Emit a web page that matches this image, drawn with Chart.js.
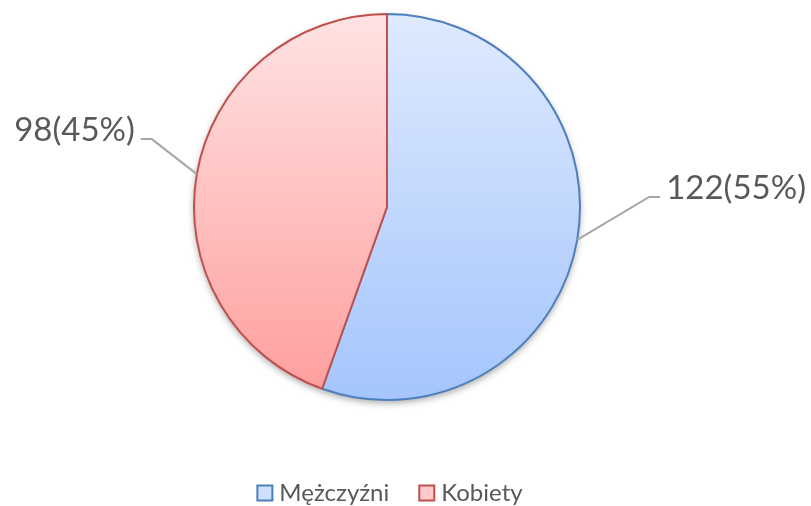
<!DOCTYPE html>
<html>
<head>
<meta charset="utf-8">
<script src="https://cdn.jsdelivr.net/npm/chart.js@4/dist/chart.umd.min.js"></script>
<style>
  html, body { margin: 0; padding: 0; background: #fff; }
  #wrap { width: 811px; height: 506px; }
</style>
</head>
<body>
<div id="wrap"><canvas id="pie" width="811" height="506"></canvas></div>
<script>
// data
const categories = ['Mężczyźni', 'Kobiety'];
const counts = [122, 98];
const pctLabels = ['55%', '45%'];

// styling
const gradTop = ['#dfeafe', '#ffe3e3'];
const gradBottom = ['#a4c5fc', '#ff9d9d'];
const borders = ['#4d7fbe', '#c0504d'];
const boxFill = ['#cfe0fd', '#ffcaca'];
// leader elbow offsets from the arc edge, per slice
const elbows = [[72, -43], [-45, -35]];

const textColor = '#595959';

function sliceGradient(ctx) {
  const chart = ctx.chart;
  const area = chart.chartArea;
  if (!area) return gradTop[ctx.dataIndex];
  const g = chart.ctx.createLinearGradient(0, area.top, 0, area.bottom);
  g.addColorStop(0, gradTop[ctx.dataIndex]);
  g.addColorStop(1, gradBottom[ctx.dataIndex]);
  return g;
}

const shadowPlugin = {
  id: 'shadow',
  beforeDatasetsDraw(chart) {
    const arc = chart.getDatasetMeta(0).data[0];
    if (!arc) return;
    const c = chart.ctx;
    c.save();
    c.shadowColor = 'rgba(0,0,0,0.35)';
    c.shadowBlur = 7;
    c.shadowOffsetY = 3;
    c.fillStyle = '#fff';
    c.beginPath();
    c.arc(arc.x, arc.y, arc.outerRadius, 0, Math.PI * 2);
    c.fill();
    c.restore();
  }
};

const labelPlugin = {
  id: 'sliceLabels',
  afterDatasetsDraw(chart) {
    const c = chart.ctx;
    const meta = chart.getDatasetMeta(0);
    meta.data.forEach((arc, i) => {
      const mid = (arc.startAngle + arc.endAngle) / 2;
      const ex = arc.x + Math.cos(mid) * arc.outerRadius;
      const ey = arc.y + Math.sin(mid) * arc.outerRadius;
      const bx = ex + elbows[i][0];
      const by = ey + elbows[i][1];
      const dir = Math.cos(mid) >= 0 ? 1 : -1;
      const sx = bx + dir * 11;
      c.save();
      c.strokeStyle = '#a6a6a6';
      c.lineWidth = 2;
      c.beginPath();
      c.moveTo(ex, ey);
      c.lineTo(bx, by);
      c.lineTo(sx, by);
      c.stroke();
      c.fillStyle = textColor;
      c.font = '33px Lato';
      c.textBaseline = 'alphabetic';
      c.textAlign = dir > 0 ? 'left' : 'right';
      c.fillText(counts[i] + '(' + pctLabels[i] + ')', sx + dir * 6, by + 2);
      c.restore();
    });

    // legend under the pie
    c.save();
    c.font = '24px Lato';
    c.textBaseline = 'middle';
    const box = 15, gap = 7, itemGap = 30;
    const widths = categories.map(t => box + gap + c.measureText(t).width);
    const total = widths.reduce((a, b) => a + b, 0) + itemGap * (categories.length - 1);
    let x = meta.data[0].x - total / 2 + 3;
    const y = 493;
    categories.forEach((t, i) => {
      c.fillStyle = boxFill[i];
      c.fillRect(x, y - box / 2, box, box);
      c.strokeStyle = borders[i];
      c.lineWidth = 2;
      c.strokeRect(x, y - box / 2, box, box);
      c.fillStyle = textColor;
      c.textAlign = 'left';
      c.fillText(t, x + box + gap, y);
      x += widths[i] + itemGap;
    });
    c.restore();
  }
};

new Chart(document.getElementById('pie'), {
  type: 'pie',
  data: {
    labels: categories,
    datasets: [{
      data: counts,
      backgroundColor: sliceGradient,
      borderColor: borders,
      borderWidth: 2
    }]
  },
  options: {
    responsive: false,
    animation: false,
    layout: { padding: { top: 13, bottom: 105, left: 150, right: 187 } },
    plugins: {
      legend: { display: false },
      tooltip: { enabled: false }
    }
  },
  plugins: [shadowPlugin, labelPlugin]
});
</script>
</body>
</html>
